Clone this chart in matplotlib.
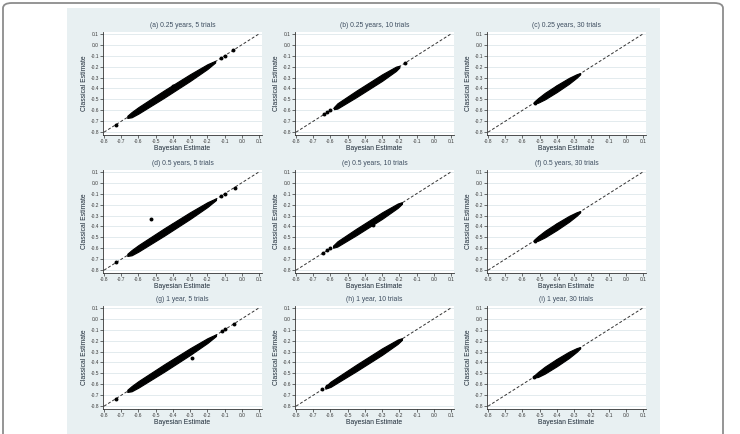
import matplotlib
matplotlib.use("Agg")
import matplotlib.pyplot as plt
from matplotlib.patches import FancyBboxPatch, Rectangle

plt.rcParams['font.family'] = ['Liberation Sans', 'DejaVu Sans']

# ---------------- data ----------------
titles = ["(a) 0.25 years, 5 trials", "(b) 0.25 years, 10 trials", "(c) 0.25 years, 30 trials",
          "(d) 0.5 years, 5 trials", "(e) 0.5 years, 10 trials", "(f) 0.5 years, 30 trials",
          "(g) 1 year, 5 trials", "(h) 1 year, 10 trials", "(i) 1 year, 30 trials"]
tick_vals = [-0.8, -0.7, -0.6, -0.5, -0.4, -0.3, -0.2, -0.1, 0.0, 0.1]
tick_labels = ["-0.8", "-0.7", "-0.6", "-0.5", "-0.4", "-0.3", "-0.2", "-0.1", "0.0", "0.1"]
ref_line = [-0.8, 0.1]

# dense clouds: centre line (x, y) and half-thickness (vertical, data units)
a_band_x = [-0.665, -0.64, -0.60, -0.45, -0.30, -0.20, -0.155]
a_band_y = [-0.66, -0.64, -0.60, -0.45, -0.30, -0.20, -0.155]
a_band_h = [0.010, 0.024, 0.030, 0.034, 0.031, 0.022, 0.008]
a_pts_x = [-0.73, -0.12, -0.10, -0.05, -0.40]
a_pts_y = [-0.73, -0.12, -0.10, -0.048, -0.38]

b_band_x = [-0.58, -0.56, -0.45, -0.30, -0.22, -0.20]
b_band_y = [-0.58, -0.56, -0.45, -0.30, -0.22, -0.20]
b_band_h = [0.010, 0.024, 0.030, 0.030, 0.020, 0.008]
b_pts_x = [-0.64, -0.62, -0.60, -0.17]
b_pts_y = [-0.635, -0.617, -0.598, -0.17]

c_band_x = [-0.53, -0.51, -0.47, -0.40, -0.33, -0.285, -0.265]
c_band_y = [-0.525, -0.51, -0.47, -0.40, -0.33, -0.285, -0.265]
c_band_h = [0.008, 0.021, 0.030, 0.032, 0.027, 0.016, 0.006]
c_pts_x = [-0.53, -0.40]
c_pts_y = [-0.53, -0.385]

d_band_x = [-0.665, -0.64, -0.60, -0.45, -0.30, -0.20, -0.15]
d_band_y = [-0.66, -0.64, -0.60, -0.45, -0.30, -0.20, -0.15]
d_band_h = [0.010, 0.024, 0.030, 0.034, 0.031, 0.022, 0.008]
d_pts_x = [-0.73, -0.53, -0.12, -0.10, -0.04, -0.40]
d_pts_y = [-0.725, -0.335, -0.12, -0.10, -0.045, -0.39]

e_band_x = [-0.585, -0.56, -0.45, -0.30, -0.21, -0.185]
e_band_y = [-0.585, -0.56, -0.45, -0.30, -0.21, -0.185]
e_band_h = [0.010, 0.024, 0.030, 0.030, 0.020, 0.008]
e_pts_x = [-0.645, -0.62, -0.60, -0.355]
e_pts_y = [-0.64, -0.615, -0.598, -0.39]

f_band_x = [-0.53, -0.51, -0.47, -0.40, -0.33, -0.285, -0.265]
f_band_y = [-0.525, -0.51, -0.47, -0.40, -0.33, -0.285, -0.265]
f_band_h = [0.008, 0.021, 0.030, 0.032, 0.027, 0.016, 0.006]
f_pts_x = [-0.53, -0.40]
f_pts_y = [-0.53, -0.39]

g_band_x = [-0.665, -0.64, -0.60, -0.45, -0.30, -0.20, -0.15]
g_band_y = [-0.66, -0.64, -0.60, -0.45, -0.30, -0.20, -0.15]
g_band_h = [0.010, 0.024, 0.030, 0.034, 0.031, 0.022, 0.008]
g_pts_x = [-0.73, -0.29, -0.115, -0.095, -0.045, -0.39]
g_pts_y = [-0.73, -0.355, -0.115, -0.095, -0.044, -0.375]

h_band_x = [-0.63, -0.60, -0.45, -0.30, -0.21, -0.185]
h_band_y = [-0.63, -0.60, -0.45, -0.30, -0.21, -0.185]
h_band_h = [0.010, 0.024, 0.030, 0.030, 0.020, 0.008]
h_pts_x = [-0.65, -0.62]
h_pts_y = [-0.645, -0.62]

i_band_x = [-0.535, -0.51, -0.47, -0.40, -0.33, -0.285, -0.265]
i_band_y = [-0.53, -0.51, -0.47, -0.40, -0.33, -0.285, -0.265]
i_band_h = [0.008, 0.023, 0.032, 0.034, 0.029, 0.017, 0.006]
i_pts_x = [-0.535, -0.40]
i_pts_y = [-0.535, -0.39]

bands = [(a_band_x, a_band_y, a_band_h), (b_band_x, b_band_y, b_band_h), (c_band_x, c_band_y, c_band_h),
         (d_band_x, d_band_y, d_band_h), (e_band_x, e_band_y, e_band_h), (f_band_x, f_band_y, f_band_h),
         (g_band_x, g_band_y, g_band_h), (h_band_x, h_band_y, h_band_h), (i_band_x, i_band_y, i_band_h)]
points = [(a_pts_x, a_pts_y), (b_pts_x, b_pts_y), (c_pts_x, c_pts_y),
          (d_pts_x, d_pts_y), (e_pts_x, e_pts_y), (f_pts_x, f_pts_y),
          (g_pts_x, g_pts_y), (h_pts_x, h_pts_y), (i_pts_x, i_pts_y)]

# ---------------- figure ----------------
W, H = 740, 434
fig = plt.figure(figsize=(W / 100, H / 100), dpi=100)
fig.patch.set_facecolor('white')

# outer rounded frame
frame = FancyBboxPatch((3 / W, -0.05), 720 / W, (H - 3) / H + 0.05,
                       boxstyle="round,pad=0,rounding_size=0.012",
                       transform=fig.transFigure, facecolor='white',
                       edgecolor='#8c8c8c', linewidth=1.3, zorder=-5)
fig.patches.append(frame)
# light blue graph region
panel = Rectangle((67 / W, 0), (660 - 67) / W, (H - 8) / H, transform=fig.transFigure,
                  facecolor='#e8f0f2', edgecolor='none', zorder=-4)
fig.patches.append(panel)

col_left = [103, 295, 487]
row_top = [32, 170, 306]
ax_w, ax_h = 159, 103

title_col = '#3e4e60'
label_col = '#1e2b38'

for k in range(9):
    r, c = divmod(k, 3)
    left = col_left[c] / W
    bottom = (H - row_top[r] - ax_h) / H
    ax = fig.add_axes([left, bottom, ax_w / W, ax_h / H])
    ax.set_zorder(2)
    ax.set_facecolor('white')
    ax.set_xlim(-0.806, 0.117)
    ax.set_ylim(-0.826, 0.117)
    ax.set_xticks(tick_vals)
    ax.set_xticklabels(tick_labels)
    ax.set_yticks(tick_vals)
    ax.set_yticklabels(tick_labels)
    ax.tick_params(axis='both', direction='out', length=2, width=0.5, pad=1.0,
                   labelsize=3.5, colors='#333333')
    ax.tick_params(axis='both', labelcolor='#3a3a3a')
    for s in ['top', 'right']:
        ax.spines[s].set_visible(False)
    for s in ['left', 'bottom']:
        ax.spines[s].set_linewidth(0.6)
        ax.spines[s].set_color('#333333')
    ax.grid(axis='y', color='#e3ebee', linewidth=0.7, zorder=0)
    ax.set_axisbelow(True)

    ax.plot(ref_line, ref_line, linestyle=(0, (3, 2)), color='#333333', linewidth=0.7, zorder=2)

    bx, by, bh = bands[k]
    lo = [y - h for y, h in zip(by, bh)]
    hi = [y + h for y, h in zip(by, bh)]
    ax.fill_between(bx, lo, hi, color='black', linewidth=0.8, edgecolor='black', zorder=3)
    px, py = points[k]
    ax.scatter(px, py, s=8, color='black', linewidths=0, zorder=4)

    ax.set_title(titles[k], fontsize=4.9, color=title_col, pad=3.5)
    ax.set_xlabel("Bayesian Estimate", fontsize=4.9, color=label_col, labelpad=0.8)
    ax.set_ylabel("Classical Estimate", fontsize=4.9, color=label_col, labelpad=1.5)

fig.savefig("out.png", dpi=100, facecolor='white')
